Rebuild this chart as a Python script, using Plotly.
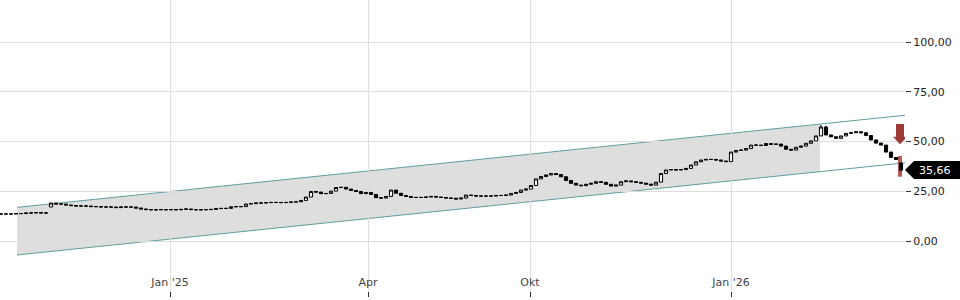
import plotly.graph_objects as go

# ---- data ----
closes = [
    13.6, 13.6, 13.6, 13.8, 13.8, 14.1, 14.1, 14.3, 14.1, 14.1,
    19.1, 18.6, 18.6, 18.1, 17.8, 17.6, 17.6, 17.6, 17.3, 17.3,
    17.1, 17.1, 17.1, 16.8, 17.1, 17.1, 17.1, 16.6, 16.1, 15.8,
    15.7, 15.7, 15.8, 15.7, 15.8, 15.7, 15.9, 16.1, 15.8, 15.7,
    15.7, 15.8, 15.9, 16.3, 16.4, 16.4, 17.2, 17.3, 17.3, 18.6,
    18.8, 19.1, 19.1, 19.3, 19.4, 19.4, 19.3, 19.4, 19.6, 19.7,
    20.4, 22.1, 24.9, 24.6, 23.8, 23.9, 25.1, 26.9, 27.0, 26.1,
    25.4, 24.9, 23.8, 24.4, 23.4, 21.8, 21.6, 22.4, 25.6, 24.0,
    22.9, 22.4, 21.9, 21.9, 21.9, 22.1, 22.4, 22.1, 21.9, 21.6,
    21.5, 21.1, 21.6, 23.1, 22.9, 22.6, 22.6, 22.6, 22.6, 22.9,
    22.9, 23.1, 23.9, 24.4, 25.6, 26.1, 27.9, 31.2, 32.4, 33.2,
    33.9, 33.4, 32.3, 30.4, 29.0, 28.1, 27.8, 28.5, 29.0, 29.8,
    29.5, 28.5, 27.6, 28.1, 29.8, 30.2, 29.8, 29.5, 29.1, 28.6,
    28.1, 29.6, 33.9, 35.7, 35.9, 35.7, 35.9, 36.5, 38.2, 39.8,
    40.7, 41.0, 41.0, 40.7, 40.2, 39.9, 44.7, 45.5, 45.7, 46.5,
    48.2, 48.2, 48.0, 49.0, 48.6, 48.7, 47.7, 46.1, 45.7, 47.1,
    47.7, 49.1, 50.3, 52.8, 57.3, 53.3, 52.4, 51.6, 52.8, 54.1,
    54.4, 54.9, 54.4, 53.0, 50.8, 49.2, 48.2, 44.7, 42.0, 41.0,
    35.66,
]
opens = [
    13.6, 13.6, 13.6, 13.6, 13.8, 13.8, 14.1, 14.1, 14.3, 14.1,
    17.1, 19.1, 18.6, 18.6, 18.1, 17.8, 17.6, 17.6, 17.6, 17.3,
    17.3, 17.1, 17.1, 17.1, 16.8, 17.1, 17.1, 17.1, 16.6, 16.1,
    15.8, 15.7, 15.7, 15.8, 15.7, 15.8, 15.7, 15.9, 16.1, 15.8,
    15.7, 15.7, 15.8, 15.9, 16.3, 16.4, 16.4, 17.2, 17.3, 17.3,
    18.6, 18.8, 19.1, 19.1, 19.3, 19.4, 19.4, 19.3, 19.4, 19.6,
    19.7, 20.4, 22.1, 24.9, 24.6, 23.8, 23.9, 25.1, 26.9, 27.0,
    26.1, 25.4, 24.9, 23.8, 24.4, 23.4, 21.8, 21.6, 22.4, 25.6,
    24.0, 22.9, 22.4, 21.9, 21.9, 21.9, 22.1, 22.4, 22.1, 21.9,
    21.6, 21.5, 21.1, 21.6, 23.1, 22.9, 22.6, 22.6, 22.6, 22.6,
    22.9, 22.9, 23.1, 23.9, 24.4, 25.6, 26.1, 27.9, 31.2, 32.4,
    33.2, 33.9, 33.4, 32.3, 30.4, 29.0, 28.1, 27.8, 28.5, 29.0,
    29.8, 29.5, 28.5, 27.6, 28.1, 29.8, 30.2, 29.8, 29.5, 29.1,
    28.6, 28.1, 29.6, 33.9, 35.7, 35.9, 35.7, 35.9, 36.5, 38.2,
    39.8, 40.7, 41.0, 41.0, 40.7, 40.2, 39.9, 44.7, 45.5, 45.7,
    46.5, 48.2, 48.2, 48.0, 49.0, 48.6, 48.7, 47.7, 46.1, 45.7,
    47.1, 47.7, 49.1, 50.3, 52.8, 57.3, 53.3, 52.4, 51.6, 52.8,
    54.1, 54.4, 54.9, 54.4, 53.0, 50.8, 49.2, 48.2, 44.7, 42.0,
    39.2,
]
wick_highs = {164: 58.3, 165: 58.0}
wick_lows = {180: 35.0}

x_tick_pos = [33.8, 73.4, 105.8, 146.0]
x_tick_text = ["Jan '25", "Apr", "Okt", "Jan '26"]
y_tick_vals = [-25, 0, 25, 50, 75, 100]
y_tick_text = ["-25,00", "0,00", "25,00", "50,00", "75,00", "100,00"]

channel_x = [3.2, 180.8]
channel_upper = [16.9, 63.2]
channel_lower = [-7.0, 39.3]
shade_end_x = 163.8

signal_arrow = {"x": 179.8, "top": 58.8, "head": 52.4, "tip": 48.6}
signal_bar = {"x0": 179.4, "x1": 180.2, "y0": 32.3, "y1": 42.7}
last_price = closes[-1]
last_price_text = "35,66"

Y_MIN, Y_MAX = -25.1, 121.1
X_MIN, X_MAX = -0.2, 180.8

# ---- derived ----
n = len(closes)
xs = list(range(n))
highs = [wick_highs.get(i, max(o, c)) for i, (o, c) in enumerate(zip(opens, closes))]
lows = [wick_lows.get(i, min(o, c)) for i, (o, c) in enumerate(zip(opens, closes))]


def lerp(xa, xb, ya, yb, x):
    return ya + (yb - ya) * (x - xa) / (xb - xa)


def poly(pts):
    return "M " + " L ".join(f"{px} {py}" for px, py in pts) + " Z"


up_end = lerp(channel_x[0], channel_x[1], channel_upper[0], channel_upper[1], shade_end_x)
lo_end = lerp(channel_x[0], channel_x[1], channel_lower[0], channel_lower[1], shade_end_x)

fig = go.Figure()

# shaded channel (below gridlines and candles)
fig.add_shape(
    type="path", xref="x", yref="y", layer="below",
    path=poly([(channel_x[0], channel_upper[0]), (shade_end_x, up_end),
               (shade_end_x, lo_end), (channel_x[0], channel_lower[0])]),
    fillcolor="#dedede", line=dict(width=0),
)
# channel lines
for ys in (channel_upper, channel_lower):
    fig.add_shape(
        type="line", xref="x", yref="y", layer="below",
        x0=channel_x[0], y0=ys[0], x1=channel_x[1], y1=ys[1],
        line=dict(color="#5f9ea0", width=1),
    )
# signal bar behind last candle
fig.add_shape(
    type="rect", xref="x", yref="y", layer="below",
    x0=signal_bar["x0"], x1=signal_bar["x1"], y0=signal_bar["y0"], y1=signal_bar["y1"],
    fillcolor="rgba(170,60,55,0.85)", line=dict(width=0),
)

# candles
fig.add_trace(go.Candlestick(
    x=xs, open=opens, high=highs, low=lows, close=closes,
    increasing=dict(line=dict(color="#000000", width=1), fillcolor="#ffffff"),
    decreasing=dict(line=dict(color="#000000", width=1), fillcolor="#000000"),
    whiskerwidth=0, showlegend=False, hoverinfo="skip",
))

# sell arrow
ax = signal_arrow["x"]
sw, hw = 0.8, 1.4
fig.add_shape(
    type="path", xref="x", yref="y", layer="above",
    path=poly([(ax - sw, signal_arrow["top"]), (ax + sw, signal_arrow["top"]),
               (ax + sw, signal_arrow["head"]), (ax + hw, signal_arrow["head"]),
               (ax, signal_arrow["tip"]), (ax - hw, signal_arrow["head"]),
               (ax - sw, signal_arrow["head"])]),
    fillcolor="#9e3a35", line=dict(width=0),
)

# last price label (outside plot area, paper coords)
plot_w = 905.0
plot_h = 291.0
yc = (last_price - Y_MIN) / (Y_MAX - Y_MIN)
h = 9.0 / plot_h
xr = 960.0 / plot_w
xb = 914.0 / plot_w
fig.add_shape(
    type="path", xref="paper", yref="paper",
    path=f"M 1.0 {yc} L {xb} {yc + h} L {xr} {yc + h} L {xr} {yc - h} L {xb} {yc - h} Z",
    fillcolor="#000000", line=dict(width=0), layer="above",
)
fig.add_annotation(
    x=917.0 / plot_w, xref="paper", y=last_price, yref="y",
    text=last_price_text, showarrow=False, xanchor="left", yanchor="middle",
    font=dict(family="DejaVu Sans", size=11, color="#ffffff"),
)

fig.update_layout(
    width=960, height=300,
    margin=dict(l=0, r=55, t=0, b=9, pad=0),
    paper_bgcolor="#ffffff", plot_bgcolor="#ffffff",
    font=dict(family="DejaVu Sans", size=11, color="#222222"),
    showlegend=False,
    boxgap=0.1,
    xaxis=dict(
        range=[X_MIN, X_MAX], tickmode="array", tickvals=x_tick_pos, ticktext=x_tick_text,
        showgrid=True, gridcolor="#dddddd", gridwidth=1,
        ticks="outside", ticklen=5, tickcolor="#333333",
        ticklabelposition="inside", showline=False, zeroline=False,
        rangeslider=dict(visible=False), automargin=False,
    ),
    yaxis=dict(
        side="right", range=[Y_MIN, Y_MAX], tickmode="array",
        tickvals=y_tick_vals, ticktext=y_tick_text,
        showgrid=True, gridcolor="#dddddd", gridwidth=1,
        ticks="outside", ticklen=5, tickcolor="#333333",
        zeroline=False, showline=False, automargin=False,
    ),
)

fig.write_html("out.html")
